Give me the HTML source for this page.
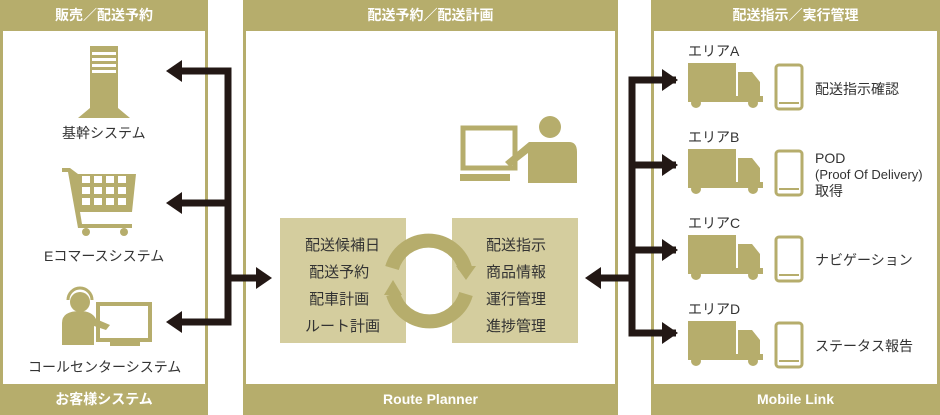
<!DOCTYPE html>
<html><head><meta charset="utf-8"><style>
body{margin:0;width:940px;height:415px;background:#fff;position:relative;overflow:hidden;font-family:"Liberation Sans","Noto Sans CJK JP",sans-serif;color:#333}
.p{position:absolute;top:0;height:415px;box-sizing:border-box;border:3px solid #b6ad6c;border-top:none;border-bottom:none}
.hd,.ft{position:absolute;left:0;right:0;background:#b6ad6c;color:#fff;font-size:14px;font-weight:bold;text-align:center}
.hd{top:0;height:31px;line-height:31px}.ft{bottom:0;height:31px;line-height:31px}
.t{position:absolute;font-size:14px;white-space:nowrap}
svg{position:absolute;left:0;top:0}
</style></head><body>
<div class="p" style="left:0;width:208px"><div class="hd">販売／配送予約</div><div class="ft">お客様システム</div></div>
<div class="p" style="left:243px;width:375px"><div class="hd">配送予約／配送計画</div><div class="ft">Route Planner</div></div>
<div class="p" style="left:651px;width:289px"><div class="hd">配送指示／実行管理</div><div class="ft">Mobile Link</div></div>
<svg width="940" height="415">
<g fill="#b6ad6c">
<path d="M90 46h28v62l12 10H78l12-10z"/>
<g fill="#fff"><rect x="92" y="52" width="24" height="3"/><rect x="92" y="58" width="24" height="3"/><rect x="92" y="64" width="24" height="3"/><rect x="92" y="70" width="24" height="3"/></g>
<path d="M62 168h8l8 6h58l-4 38H80l2 12h50v4H78l-10-56h-6z"/>
<circle cx="86" cy="232" r="4"/><circle cx="124" cy="232" r="4"/>
<g fill="#fff"><rect x="82" y="176" width="8" height="7"/><rect x="94" y="176" width="8" height="7"/><rect x="106" y="176" width="8" height="7"/><rect x="118" y="176" width="8" height="7"/>
<rect x="82" y="187" width="8" height="7"/><rect x="94" y="187" width="8" height="7"/><rect x="106" y="187" width="8" height="7"/><rect x="118" y="187" width="8" height="7"/>
<rect x="82" y="198" width="8" height="7"/><rect x="94" y="198" width="8" height="7"/><rect x="106" y="198" width="8" height="7"/><rect x="118" y="198" width="8" height="7"/></g>
<circle cx="80" cy="302" r="10"/><path d="M62 345v-22q0-12 18-12q12 0 16 8l14 6-4 5-12-4v19z"/>
<path d="M68 300a12 12 0 0 1 24 0" fill="none" stroke="#b6ad6c" stroke-width="3"/>
<rect x="98" y="304" width="52" height="36" fill="none" stroke="#b6ad6c" stroke-width="4"/><rect x="110" y="342" width="30" height="4"/>
<rect x="463" y="128" width="52" height="40" fill="none" stroke="#b6ad6c" stroke-width="5"/><rect x="460" y="174" width="50" height="7"/>
<circle cx="550" cy="127" r="11"/><path d="M528 183v-30l-18 14-5-5 24-20h40q8 0 8 10v31z"/>
<rect x="280" y="218" width="126" height="125" fill="#d4cd9e"/><rect x="452" y="218" width="126" height="125" fill="#d4cd9e"/>
</g>
<g fill="none" stroke="#b6ad6c" stroke-width="14">
<path d="M392 268a38 38 0 0 1 73 0"/><path d="M466 294a38 38 0 0 1-73 0"/></g>
<g fill="#b6ad6c"><path d="M456 266h20l-10 14z"/><path d="M384 295h18l-9-15z"/></g>
<g fill="none" stroke="#231815" stroke-width="7">
<path d="M180 71H228V322H180M180 203H228M228 278H262"/>
<path d="M676 80H632V333H676M632 165H676M632 250H676M632 278H596"/></g>
<g fill="#231815">
<path d="M166 71l16-11v22z"/><path d="M166 203l16-11v22z"/><path d="M166 322l16-11v22z"/><path d="M272 278l-16-11v22z"/>
<path d="M585 278l16-11v22z"/>
<path d="M678 80l-16-11v22z"/><path d="M678 165l-16-11v22z"/><path d="M678 250l-16-11v22z"/><path d="M678 333l-16-11v22z"/></g>
<g fill="#b6ad6c">
<g transform="translate(0,0)"><rect x="688" y="63" width="48" height="37"/><path d="M738 72h14l8 10v18h-22z"/><circle cx="696" cy="103" r="5"/><circle cx="753" cy="103" r="5"/><rect x="688" y="96" width="75" height="6"/><rect x="776" y="65" width="26" height="44" rx="3" fill="none" stroke="#b6ad6c" stroke-width="3"/><rect x="779" y="102" width="20" height="2"/></g>
<g transform="translate(0,86)"><rect x="688" y="63" width="48" height="37"/><path d="M738 72h14l8 10v18h-22z"/><circle cx="696" cy="103" r="5"/><circle cx="753" cy="103" r="5"/><rect x="688" y="96" width="75" height="6"/><rect x="776" y="65" width="26" height="44" rx="3" fill="none" stroke="#b6ad6c" stroke-width="3"/><rect x="779" y="102" width="20" height="2"/></g>
<g transform="translate(0,172)"><rect x="688" y="63" width="48" height="37"/><path d="M738 72h14l8 10v18h-22z"/><circle cx="696" cy="103" r="5"/><circle cx="753" cy="103" r="5"/><rect x="688" y="96" width="75" height="6"/><rect x="776" y="65" width="26" height="44" rx="3" fill="none" stroke="#b6ad6c" stroke-width="3"/><rect x="779" y="102" width="20" height="2"/></g>
<g transform="translate(0,258)"><rect x="688" y="63" width="48" height="37"/><path d="M738 72h14l8 10v18h-22z"/><circle cx="696" cy="103" r="5"/><circle cx="753" cy="103" r="5"/><rect x="688" y="96" width="75" height="6"/><rect x="776" y="65" width="26" height="44" rx="3" fill="none" stroke="#b6ad6c" stroke-width="3"/><rect x="779" y="102" width="20" height="2"/></g>
</g>
</svg>
<div class="t" style="left:62px;top:123px">基幹システム</div>
<div class="t" style="left:44px;top:246px">Eコマースシステム</div>
<div class="t" style="left:28px;top:357px">コールセンターシステム</div>
<div class="t" style="left:305px;top:232px;line-height:27px;font-size:15px">配送候補日<br>&nbsp;配送予約<br>&nbsp;配車計画<br>ルート計画</div>
<div class="t" style="left:486px;top:232px;line-height:27px;font-size:15px">配送指示<br>商品情報<br>運行管理<br>進捗管理</div>
<div class="t" style="left:688px;top:41px">エリアA</div>
<div class="t" style="left:688px;top:127px">エリアB</div>
<div class="t" style="left:688px;top:213px">エリアC</div>
<div class="t" style="left:688px;top:299px">エリアD</div>
<div class="t" style="left:815px;top:79px">配送指示確認</div>
<div class="t" style="left:815px;top:150px;line-height:16px">POD<br><span style="font-size:13px">(Proof Of Delivery)</span><br>取得</div>
<div class="t" style="left:815px;top:250px">ナビゲーション</div>
<div class="t" style="left:815px;top:336px">ステータス報告</div>
</body></html>
